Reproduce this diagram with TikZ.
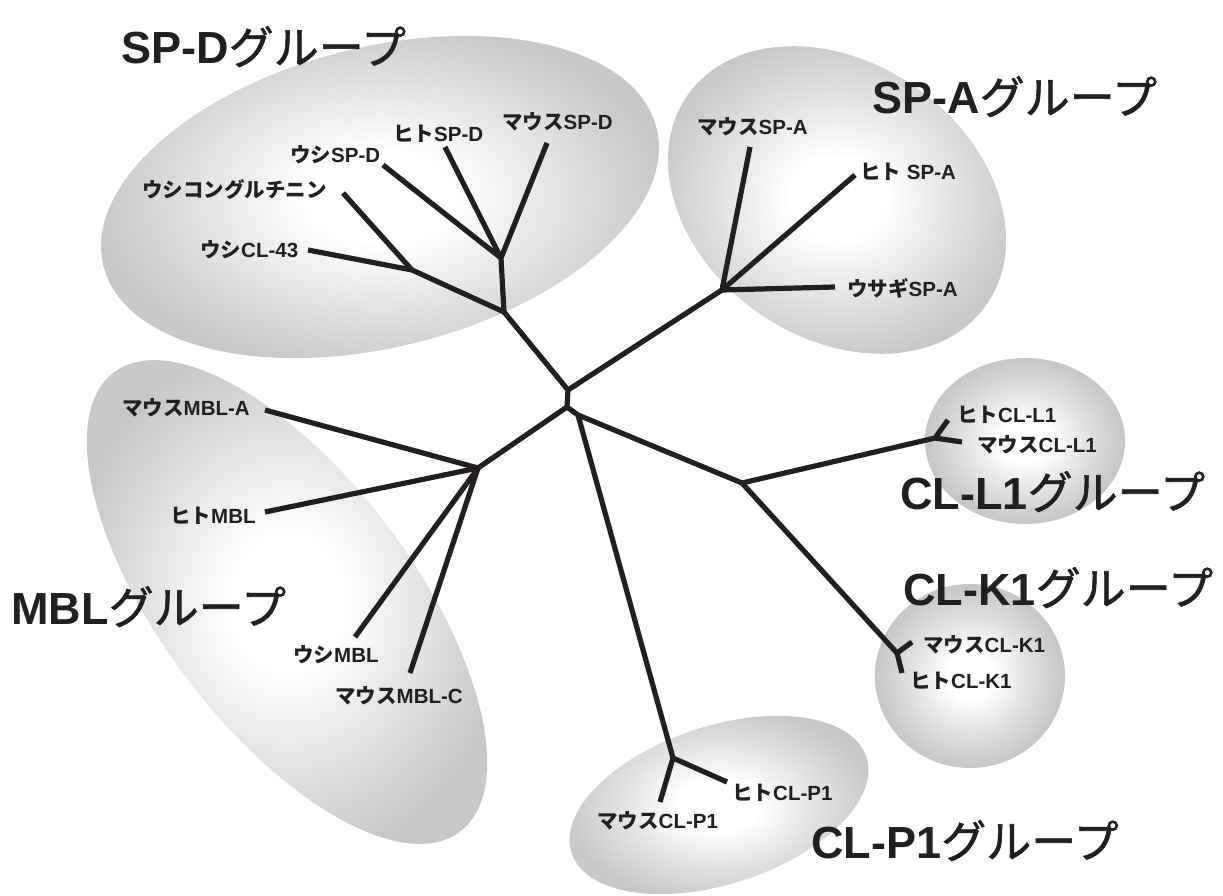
\documentclass[tikz,border=0pt]{standalone}
\usepackage{fontspec}
\setmainfont{Liberation Sans}
\newfontfamily\jp{Noto Sans CJK JP}
\newfontfamily\jpm[FakeBold=1.3]{Noto Sans CJK JP}
\usetikzlibrary{shapes.geometric}
\definecolor{ellgray}{RGB}{198,199,201}
\definecolor{ink}{RGB}{35,31,32}
\pgfdeclareradialshading{glow}{\pgfpoint{0bp}{0bp}}{color(0bp)=(white); color(6bp)=(white); color(24bp)=(ellgray); color(25bp)=(ellgray); color(50bp)=(ellgray)}
\newcommand\lab[2]{{\jp\bfseries #1}{\bfseries #2}}
\newcommand\grp[1]{{\bfseries #1}{\jpm グループ}}
\tikzset{
  blob/.style={ellipse, draw=none, shading=glow, inner sep=0pt},
  branch/.style={line width=5.2pt, draw=ink},
  leaf/.style={anchor=base west, inner sep=0pt, text=ink, font=\fontsize{20.5}{20.5}\selectfont},
  group/.style={anchor=base west, inner sep=0pt, text=ink, font=\fontsize{45}{45}\selectfont},
}
\begin{document}
\begin{tikzpicture}[x=1pt,y=-1pt]
\useasboundingbox (0,0) rectangle (1223,896);
% group ellipses
\node[blob, minimum width=570pt, minimum height=300pt, rotate=14] (eSPD) at (380,197) {};
\node[blob, minimum width=365pt, minimum height=275pt, rotate=-35] (eSPA) at (837,200) {};
\node[blob, minimum width=575pt, minimum height=252pt, rotate=-53] (eMBL) at (287,602) {};
\node[blob, minimum width=310pt, minimum height=158pt, rotate=18] (eCLP) at (719,805) {};
\node[blob, minimum width=200pt, minimum height=166pt] (eCLL) at (1025,441) {};
\node[blob, minimum width=190pt, minimum height=184pt] (eCLK) at (970,676) {};
% internal nodes
\coordinate (c1) at (568,390);
\coordinate (c2) at (567,407);
\coordinate (c3) at (578,415);
\coordinate (spd) at (504,312);
\coordinate (spd1) at (501,258);
\coordinate (spd2) at (412,270);
\coordinate (spa) at (722,290);
\coordinate (mbl) at (478,468);
\coordinate (cl) at (742,483);
\coordinate (cll) at (935,438);
\coordinate (clk) at (897,653);
\coordinate (clp) at (673,758);
% leaf ends
\coordinate (tMSPD) at (547,143);
\coordinate (tHSPD) at (445,147);
\coordinate (tUSPD) at (383,165);
\coordinate (tUCON) at (343,193);
\coordinate (tUCL) at (308,250);
\coordinate (tMSPA) at (750,147);
\coordinate (tHSPA) at (855,175);
\coordinate (tRSPA) at (835,287);
\coordinate (tMMA) at (265,410);
\coordinate (tHMBL) at (265,512);
\coordinate (tUMBL) at (355,637);
\coordinate (tMMC) at (410,673);
\coordinate (tHCLL) at (948,420);
\coordinate (tMCLL) at (962,442);
\coordinate (tMCLK) at (912,642);
\coordinate (tHCLK) at (902,673);
\coordinate (tHCLP) at (727,782);
\coordinate (tMCLP) at (660,802);
% tree
\draw[branch] (spd) -- (c1) -- (c2) -- (c3);
\draw[branch] (c1) -- (spa);
\draw[branch] (c2) -- (mbl);
\draw[branch] (c3) -- (cl);
\draw[branch] (c3) -- (clp);
\draw[branch] (spd) -- (spd1);
\draw[branch] (spd) -- (spd2);
\draw[branch] (spd1) -- (tMSPD);
\draw[branch] (spd1) -- (tHSPD);
\draw[branch] (spd1) -- (tUSPD);
\draw[branch] (spd2) -- (tUCON);
\draw[branch] (spd2) -- (tUCL);
\draw[branch] (spa) -- (tMSPA);
\draw[branch] (spa) -- (tHSPA);
\draw[branch] (spa) -- (tRSPA);
\draw[branch] (mbl) -- (tMMA);
\draw[branch] (mbl) -- (tHMBL);
\draw[branch] (mbl) -- (tUMBL);
\draw[branch] (mbl) -- (tMMC);
\draw[branch] (cl) -- (cll);
\draw[branch] (cl) -- (clk);
\draw[branch] (cll) -- (tHCLL);
\draw[branch] (cll) -- (tMCLL);
\draw[branch] (clk) -- (tMCLK);
\draw[branch] (clk) -- (tHCLK);
\draw[branch] (clp) -- (tHCLP);
\draw[branch] (clp) -- (tMCLP);
% leaf labels
\node[leaf] (lUSPD) at (290,163) {\lab{ウシ}{SP-D}};
\node[leaf] (lHSPD) at (393,142) {\lab{ヒト}{SP-D}};
\node[leaf] (lMSPD) at (502,130) {\lab{マウス}{SP-D}};
\node[leaf] (lUCON) at (142,198) {\lab{ウシコングルチニン}{}};
\node[leaf] (lUCL) at (200,257) {\lab{ウシ}{CL-43}};
\node[leaf] (lMSPA) at (697,135) {\lab{マウス}{SP-A}};
\node[leaf] (lHSPA) at (860,180) {\lab{ヒト}{ SP-A}};
\node[leaf] (lRSPA) at (847,296) {\lab{ウサギ}{SP-A}};
\node[leaf] (lHCLL) at (957,422) {\lab{ヒト}{CL-L1}};
\node[leaf] (lMCLL) at (977,452) {\lab{マウス}{CL-L1}};
\node[leaf] (lMCLK) at (923,652) {\lab{マウス}{CL-K1}};
\node[leaf] (lHCLK) at (910,688) {\lab{ヒト}{CL-K1}};
\node[leaf] (lHCLP) at (732,800) {\lab{ヒト}{CL-P1}};
\node[leaf] (lMCLP) at (597,828) {\lab{マウス}{CL-P1}};
\node[leaf] (lMMA) at (122,415) {\lab{マウス}{MBL-A}};
\node[leaf] (lHMBL) at (170,523) {\lab{ヒト}{MBL}};
\node[leaf] (lUMBL) at (293,662) {\lab{ウシ}{MBL}};
\node[leaf] (lMMC) at (335,703) {\lab{マウス}{MBL-C}};
% group labels
\node[group] (gSPD) at (121,64) {\grp{SP-D}};
\node[group] (gSPA) at (872,114) {\grp{SP-A}};
\node[group] (gCLL) at (900,509) {\grp{CL-L1}};
\node[group] (gCLK) at (903,605) {\grp{CL-K1}};
\node[group] (gMBL) at (11,624) {\grp{MBL}};
\node[group] (gCLP) at (811,858) {\grp{CL-P1}};
\end{tikzpicture}
\end{document}
